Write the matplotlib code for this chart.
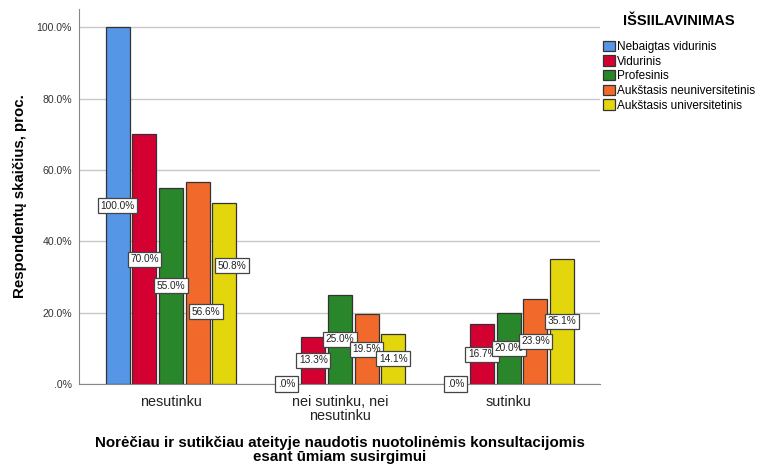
import matplotlib.pyplot as plt
from matplotlib.patches import Patch
import numpy as np

plt.rcParams['font.family'] = ['Liberation Sans', 'DejaVu Sans']

categories = ['nesutinku', 'nei sutinku, nei\nnesutinku', 'sutinku']
series = ['Nebaigtas vidurinis', 'Vidurinis', 'Profesinis',
          'Aukštasis neuniversitetinis', 'Aukštasis universitetinis']
values = [
    [100.0, 0.0, 0.0],
    [70.0, 13.3, 16.7],
    [55.0, 25.0, 20.0],
    [56.6, 19.5, 23.9],
    [50.8, 14.1, 35.1],
]
colors = ['#5596E6', '#D50032', '#2A862A', '#F26A2B', '#E3D60C']
yticks = [0, 20, 40, 60, 80, 100]

# labels that get pushed aside so boxes do not collide: (series, category) -> (y, dx)
label_moves = {(3, 0): (20.2, 0.05), (4, 0): (33.1, 0.045)}


def pct(v):
    s = '%.1f%%' % v
    return s[1:] if s.startswith('0.') else s


fig = plt.figure(figsize=(7.66, 4.68), dpi=100)
ax = fig.add_axes([79 / 766, 1 - 384 / 468, 521 / 766, 375 / 468])

x = np.arange(len(categories))
step = 0.158
width = 0.142
for i, (name, vals) in enumerate(zip(series, values)):
    xs = x + (i - 2) * step
    ax.bar(xs, vals, width, color=colors[i], edgecolor='#333333',
           linewidth=0.9, zorder=3)
    for j, v in enumerate(vals):
        ly, dx = label_moves.get((i, j), (v / 2, 0))
        ax.text(xs[j] + dx, ly, pct(v),
                ha='center', va='center', fontsize=7.3, color='#222222', zorder=5,
                bbox=dict(boxstyle='square,pad=0.25', fc='white', ec='#444444', lw=0.9))

ax.set_xlim(-0.545, 2.54)
ax.set_ylim(0, 105.1)
ax.set_yticks(yticks)
ax.set_yticklabels([pct(t) for t in yticks], fontsize=7.6, color='#333333')
ax.set_xticks(x)
ax.set_xticklabels(categories, fontsize=10.4, color='#222222', linespacing=1.0)
ax.tick_params(axis='both', length=0)
ax.tick_params(axis='y', pad=5)
ax.tick_params(axis='x', pad=8)

ax.grid(axis='y', color='#c8c8c8', linewidth=1, zorder=0)
for s in ['top', 'right']:
    ax.spines[s].set_visible(False)
ax.spines['left'].set_color('#888888')
ax.spines['bottom'].set_color('#888888')

ax.set_ylabel('Respondentų skaičius, proc.', fontsize=10.8, fontweight='bold', labelpad=7)
ax.set_xlabel('Norėčiau ir sutikčiau ateityje naudotis nuotolinėmis konsultacijomis\n'
              'esant ūmiam susirgimui', fontsize=10.9, fontweight='bold', labelpad=9,
              linespacing=1.08)

handles = [Patch(facecolor=c, edgecolor='#333333', linewidth=0.9) for c in colors]
leg = fig.legend(handles, series, loc='upper left', bbox_to_anchor=(603 / 766, 1 - 14 / 468),
                 frameon=False, fontsize=8.5, title='IŠSIILAVINIMAS',
                 title_fontproperties={'weight': 'bold', 'size': 10.5},
                 handlelength=1.0, handleheight=1.0, handletextpad=0.2,
                 labelspacing=0.2, borderaxespad=0, borderpad=0)
leg._legend_box.align = 'center'
leg._legend_box.sep = 9

fig.savefig('out.png', dpi=100)
